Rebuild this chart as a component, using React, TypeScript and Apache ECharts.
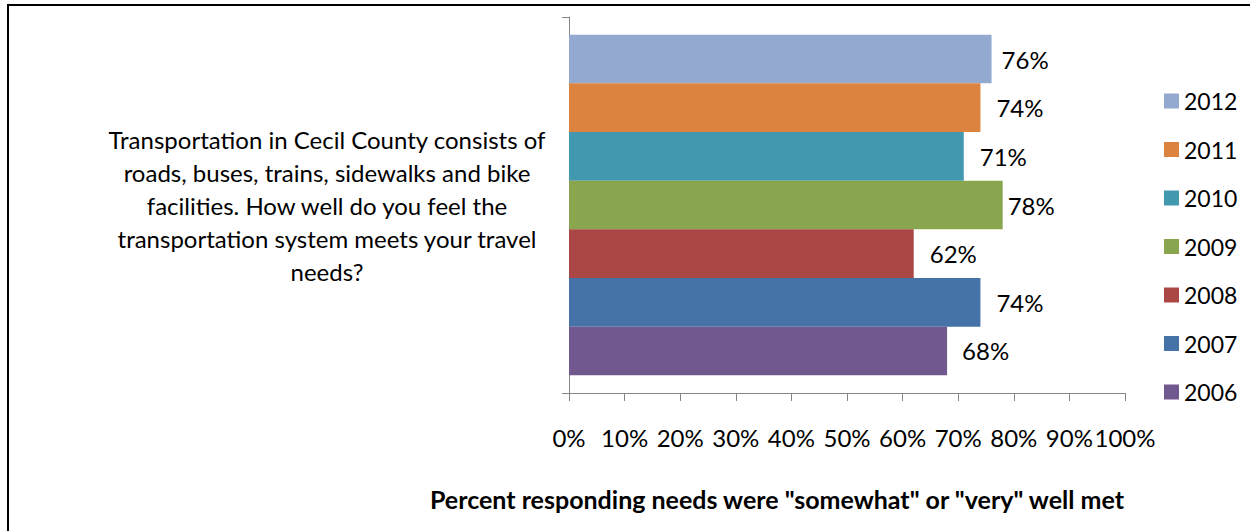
import React, { useEffect, useRef } from "react";
import * as echarts from "echarts";

const years = ["2012", "2011", "2010", "2009", "2008", "2007", "2006"];
const values = [76, 74, 71, 78, 62, 74, 68];
const colors = ["#94A9CF", "#DC843F", "#4198AF", "#89A54E", "#AA4744", "#4572A7", "#71588F"];
const labelGaps = [10, 16, 16, 5, 16, 16, 15];
const categories = [
  "Transportation in Cecil County consists of\nroads, buses, trains, sidewalks and bike\nfacilities. How well do you feel the\ntransportation system meets your travel\nneeds?",
];
const axisTitle = 'Percent responding needs were "somewhat" or "very" well met';

const FONT = "Lato, Carlito, Calibri, sans-serif";

export default function App() {
  const ref = useRef<HTMLDivElement>(null);
  useEffect(() => {
    if (!ref.current) return;
    const chart = echarts.init(ref.current, null, { renderer: "svg" });
    chart.setOption({
      animation: false,
      textStyle: { fontFamily: FONT },
      grid: { left: 569, right: 125, top: 17, bottom: 138, containLabel: false },
      legend: {
        orient: "vertical",
        left: 1164,
        top: 89,
        padding: 0,
        itemWidth: 15,
        itemHeight: 15,
        itemGap: 24.5,
        icon: "rect",
        data: years,
        textStyle: { fontFamily: FONT, fontSize: 23, lineHeight: 24, color: "#000" },
      },
      xAxis: {
        type: "value",
        min: 0,
        max: 100,
        interval: 10,
        splitLine: { show: false },
        axisLine: { show: true, lineStyle: { color: "#868686", width: 1 } },
        axisTick: { show: true, length: 8, lineStyle: { color: "#868686" } },
        axisLabel: {
          formatter: "{value}%",
          fontFamily: FONT,
          fontSize: 24,
          color: "#000",
          margin: 32,
        },
        name: axisTitle,
        nameLocation: "middle",
        nameGap: 93,
        nameTextStyle: {
          fontFamily: FONT,
          fontSize: 25,
          fontWeight: "bold",
          color: "#000",
          padding: [0, 140, 0, 0],
        },
      },
      yAxis: {
        type: "category",
        data: categories,
        axisLine: { show: true, lineStyle: { color: "#868686", width: 1 } },
        axisTick: { show: true, length: 7, lineStyle: { color: "#868686" } },
        axisLabel: {
          fontFamily: FONT,
          fontSize: 24,
          color: "#000",
          align: "center",
          margin: 242,
          lineHeight: 33,
        },
      },
      series: years.map((y, i) => ({
        name: y,
        type: "bar",
        data: [values[i]],
        barGap: "0%",
        barCategoryGap: "9.4%",
        itemStyle: { color: colors[i] },
        label: {
          show: true,
          position: "right",
          distance: labelGaps[i],
          formatter: "{c}%",
          fontFamily: FONT,
          fontSize: 24,
          color: "#000",
        },
      })),
      graphic: [
        {
          type: "rect",
          shape: { x: 8, y: 5, width: 1400, height: 700 },
          style: { fill: "none", stroke: "#000", lineWidth: 2 },
          silent: true,
        },
      ],
    });
    return () => chart.dispose();
  }, []);
  return (
    <div
      ref={ref}
      style={{ position: "fixed", left: 0, top: 0, width: 1250, height: 531, background: "#fff" }}
    />
  );
}
